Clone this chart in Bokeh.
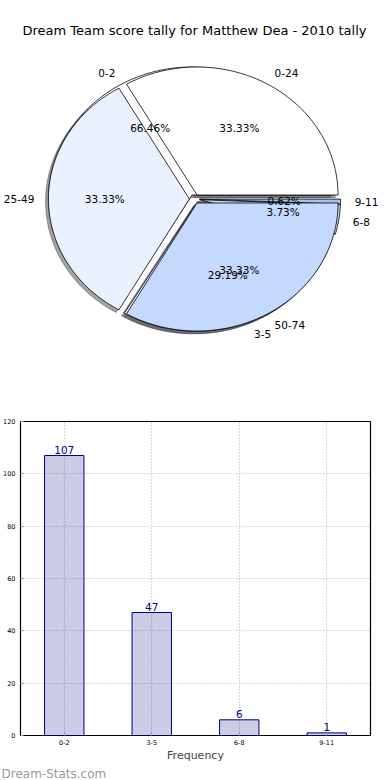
import numpy as np
from bokeh.plotting import figure
from bokeh.models import (ColumnDataSource, Range1d, FactorRange, Label,
                          SingleIntervalTicker, Title)
from bokeh.layouts import column, row
from bokeh.embed import file_html
from bokeh.resources import INLINE
from bokeh.core.properties import value

# ---------------- data ----------------
title_text = "Dream Team score tally for Matthew Dea - 2010 tally"
ring_labels = ["0-24", "25-49", "50-74"]
ring_values = [1, 1, 1]
bin_labels = ["0-2", "3-5", "6-8", "9-11"]
bin_counts = [107, 47, 6, 1]
pie_colors = ["#ffffff", "#eaf1fe", "#c5d9fe", "#a3c2f7"]
watermark = "Dream-Stats.com"
x_axis_label = "Frequency"

FONT = "DejaVu Sans"

# ---------------- pie geometry (matplotlib-like, unit radius) ----------------
EXPLODE = 0.036
SHADOW = 0.02


def build_wedges(labels, values):
    total = float(sum(values))
    t1 = 0.0
    rows = dict(xs=[], ys=[], sxs=[], sys=[], color=[], shade=[],
                px=[], py=[], pct=[], lx=[], ly=[], label=[])
    for i, (lab, v) in enumerate(zip(labels, values)):
        frac = v / total
        t2 = t1 + frac
        tm = np.pi * (t1 + t2)
        cx, cy = EXPLODE * np.cos(tm), EXPLODE * np.sin(tm)
        n = max(int(360 * frac), 3) + 1
        th = np.linspace(2 * np.pi * t1, 2 * np.pi * t2, n)
        xs = [cx] + list(cx + np.cos(th)) + [cx]
        ys = [cy] + list(cy + np.sin(th)) + [cy]
        rows["xs"].append(xs)
        rows["ys"].append(ys)
        rows["sxs"].append([x - SHADOW for x in xs])
        rows["sys"].append([y - SHADOW for y in ys])
        col = pie_colors[i % len(pie_colors)]
        rows["color"].append(col)
        r, g, b = (int(col[k:k + 2], 16) for k in (1, 3, 5))
        rows["shade"].append("#%02x%02x%02x" % (int(r * 0.3), int(g * 0.3), int(b * 0.3)))
        rows["px"].append(cx + 0.6 * np.cos(tm))
        rows["py"].append(cy + 0.6 * np.sin(tm))
        rows["pct"].append("%.2f%%" % (100 * frac))
        rows["lx"].append(cx + 1.1 * np.cos(tm))
        rows["ly"].append(cy + 1.1 * np.sin(tm))
        rows["label"].append(lab)
        t1 = t2
    return rows


inner = build_wedges(bin_labels, bin_counts)
outer = build_wedges(ring_labels, ring_values)

W = 390
BL, BR = 19, 20            # bar frame borders
PH = 400
RX, RY = 141.0, 128.0      # pie radii in pixels
CX, CY = 194.0, 198.5      # pie centre in the pie canvas

pie = figure(width=W, height=PH, output_backend="svg", toolbar_location=None,
             x_range=Range1d(-CX / RX, (W - CX) / RX),
             y_range=Range1d(-(PH - CY) / RY, CY / RY),
             min_border=0, outline_line_color=None)
pie.axis.visible = False
pie.grid.visible = False

src_in = ColumnDataSource(inner)
src_out = ColumnDataSource(outer)

for s in (src_in, src_out):
    pie.patches("sxs", "sys", source=s, fill_color="shade", fill_alpha=0.5,
                line_color="shade", line_alpha=0.5, line_width=1)
for s in (src_in, src_out):
    pie.patches("xs", "ys", source=s, fill_color="color", line_color="black", line_width=0.8)

for rows in (inner, outer):
    pie.text(x=rows["px"], y=rows["py"], text=rows["pct"], text_align="center",
             text_baseline="middle", text_font=value(FONT), text_font_size="10.5px",
             text_color="black")
    left = [i for i, x in enumerate(rows["lx"]) if x > 0]
    right = [i for i, x in enumerate(rows["lx"]) if x <= 0]
    for idx, al in ((left, "left"), (right, "right")):
        if idx:
            pie.text(x=[rows["lx"][i] for i in idx], y=[rows["ly"][i] for i in idx],
                     text=[rows["label"][i] for i in idx], text_align=al,
                     text_baseline="middle", text_font=value(FONT),
                     text_font_size="10.5px", text_color="black")

pie.add_layout(Label(x=194, y=PH - 30, x_units="screen", y_units="screen",
                     text=title_text, text_align="center", text_baseline="middle",
                     text_font=FONT, text_font_size="13px", text_color="black"))

# ---------------- bar chart ----------------
BH = 380
bar = figure(width=W, height=BH, output_backend="svg", toolbar_location=None,
             x_range=FactorRange(*bin_labels), y_range=Range1d(0, 120),
             min_border_top=21, min_border_right=BR, min_border_left=BL,
             min_border_bottom=40, outline_line_color="black", outline_line_width=1.2)
bar.vbar(x=bin_labels, top=bin_counts, width=0.45, fill_color="navy", fill_alpha=0.2,
         line_color="navy", line_width=1)
bar.text(x=bin_labels, y=bin_counts, text=[str(c) for c in bin_counts], y_offset=-2,
         text_align="center", text_baseline="bottom", text_font=value(FONT),
         text_font_size="10.5px", text_color="navy")

bar.yaxis.ticker = SingleIntervalTicker(interval=20)
for ax in (bar.xaxis[0], bar.yaxis[0]):
    ax.axis_line_color = None
    ax.major_tick_in = 3
    ax.major_tick_out = 0
    ax.minor_tick_line_color = None
    ax.major_tick_line_color = "#999999"
    ax.major_label_text_font = FONT
    ax.major_label_text_font_size = "6.5px"
    ax.major_label_text_color = "black"
bar.yaxis.major_label_standoff = 1
bar.yaxis.axis_label_standoff = 0
bar.xaxis.major_label_standoff = 4
bar.xaxis.axis_label = x_axis_label
bar.xaxis.axis_label_text_font = FONT
bar.xaxis.axis_label_text_font_size = "11px"
bar.xaxis.axis_label_text_font_style = "normal"
bar.xaxis.axis_label_standoff = 1
bar.grid.grid_line_color = "#b8b8b8"
bar.grid.grid_line_dash = "1 2"
bar.grid.grid_line_width = 1.2

bar.add_layout(Title(text=watermark, align="left", offset=-BL, standoff=0,
                     text_font=FONT, text_font_size="12px", text_font_style="normal",
                     text_color="#9a9a9a"), "below")

layout = column(row(pie), row(bar))
open("out.html", "w").write(file_html(layout, INLINE))
